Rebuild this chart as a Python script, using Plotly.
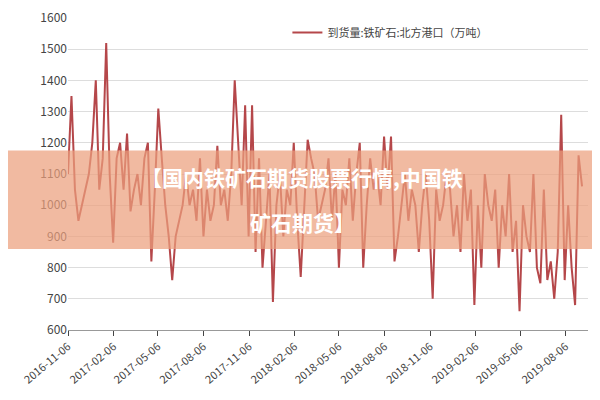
import plotly.graph_objects as go
import pandas as pd

values = [1100,1350,1050,950,1000,1050,1100,1200,1400,1050,1150,1520,1100,880,
1150,1200,1050,1230,980,1050,1100,1000,1150,1200,820,1050,1310,
1150,1000,900,760,900,950,1000,1100,1000,1050,950,1150,900,
1050,950,1000,1190,1000,1050,950,1100,1400,1200,1000,1320,900,
1320,850,1150,800,950,1100,690,1000,1100,900,1050,1000,1200,
950,770,1000,1210,1150,1100,950,1000,1050,1150,950,1100,800,
1050,1000,1150,950,1100,1200,800,1000,1150,1050,1100,1000,1220,
1050,1220,820,900,1000,1100,950,1050,1000,850,1000,1100,950,
700,1050,950,1000,1100,1050,900,1000,850,1100,950,1050,680,
1000,800,1100,1000,950,1050,800,1000,900,1100,850,950,660,
1000,900,850,1100,800,750,1050,760,820,700,850,1290,760,
1000,800,680,1160,1060]
dates = pd.date_range("2016-11-06", periods=len(values), freq="7D")
tick_labels = ["2016-11-06","2017-02-06","2017-05-06","2017-08-06","2017-11-06","2018-02-06",
"2018-05-06","2018-08-06","2018-11-06","2019-02-06","2019-05-06","2019-08-06"]
series_name = "到货量:铁矿石:北方港口（万吨）"
title_lines = ["【国内铁矿石期货股票行情,中国铁", "矿石期货】"]

fig = go.Figure(go.Scatter(x=dates, y=values, mode="lines", name=series_name,
                           line=dict(color="#b5474a", width=2)))
fig.update_layout(
    width=600, height=400, paper_bgcolor="white", plot_bgcolor="white",
    margin=dict(l=60, r=20, t=10, b=78, autoexpand=False),
    font=dict(family="Noto Sans CJK SC", color="#444"),
    showlegend=True,
    legend=dict(x=0.62, y=1.0, xanchor="center", yanchor="top", bgcolor="rgba(0,0,0,0)", font=dict(size=11)),
    xaxis=dict(tickvals=list(pd.to_datetime(tick_labels)), ticktext=tick_labels, tickangle=-40,
               range=[pd.Timestamp("2016-11-06"), pd.Timestamp("2019-09-20")],
               showgrid=False, showline=True, linecolor="#999", ticks="outside", tickfont=dict(size=11)),
    yaxis=dict(range=[600, 1600], dtick=100, showgrid=True, gridcolor="#ddd", zeroline=False,
               showline=False, tickfont=dict(size=12)),
    shapes=[dict(type="rect", xref="paper", yref="paper", x0=-0.2, x1=1.2, y0=0.26, y1=0.575,
                 fillcolor="rgba(235,160,125,0.72)", line=dict(width=0), layer="above")],
    annotations=[
        dict(text="<b>"+title_lines[0]+"</b>", xref="paper", yref="paper", x=0.45, y=0.49,
             showarrow=False, font=dict(size=21, color="white")),
        dict(text="<b>"+title_lines[1]+"</b>", xref="paper", yref="paper", x=0.45, y=0.345,
             showarrow=False, font=dict(size=21, color="white")),
    ]
)
fig.write_html("out.html")
